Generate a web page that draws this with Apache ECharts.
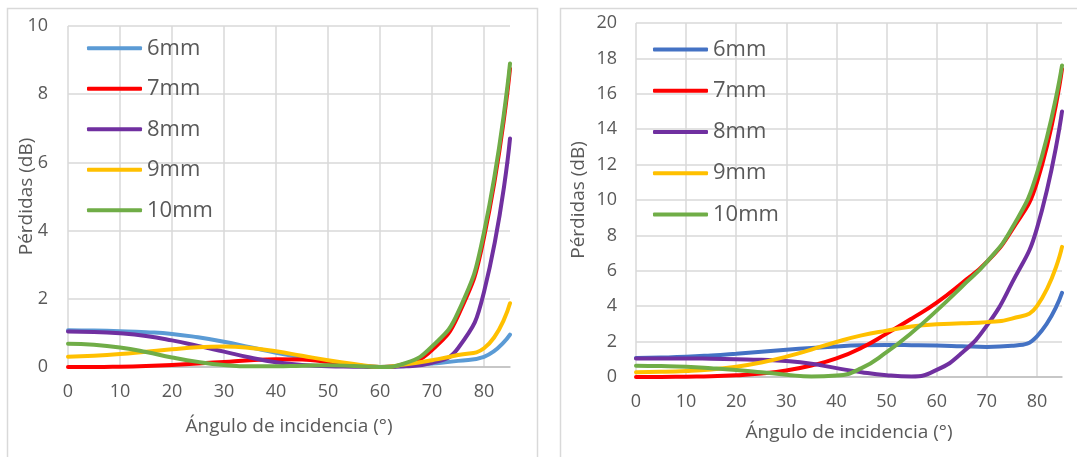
<!DOCTYPE html>
<html>
<head>
<meta charset="utf-8">
<script src="https://cdn.jsdelivr.net/npm/echarts@6/dist/echarts.min.js"></script>
<style>
  html, body { margin: 0; padding: 0; background: #fff; }
  #chart { width: 1077px; height: 457px; }
</style>
</head>
<body>
<div id="chart"></div>
<script>
// angle of incidence (deg)
const angles = [0, 5, 10, 15, 20, 25, 30, 35, 40, 45, 50, 55, 60, 65, 70, 75, 80, 85];
const names = ["6mm", "7mm", "8mm", "9mm", "10mm"];

// left chart losses (dB)
const left6 = [1.08, 1.07, 1.05, 1.02, 0.97, 0.87, 0.74, 0.58, 0.42, 0.28, 0.15, 0.05, 0.0, 0.03, 0.1, 0.18, 0.3, 0.95];
const left7 = [0.0, 0.0, 0.01, 0.03, 0.06, 0.1, 0.15, 0.2, 0.23, 0.22, 0.15, 0.06, 0.0, 0.1, 0.5, 1.5, 3.8, 8.75];
const left8 = [1.04, 1.03, 0.99, 0.91, 0.78, 0.62, 0.45, 0.28, 0.14, 0.06, 0.02, 0.01, 0.0, 0.02, 0.12, 0.55, 2.2, 6.7];
const left9 = [0.3, 0.33, 0.38, 0.45, 0.52, 0.58, 0.6, 0.56, 0.46, 0.33, 0.2, 0.09, 0.0, 0.08, 0.2, 0.35, 0.55, 1.87];
const left10 = [0.68, 0.65, 0.57, 0.44, 0.28, 0.15, 0.06, 0.02, 0.02, 0.04, 0.05, 0.03, 0.0, 0.12, 0.6, 1.6, 3.95, 8.9];

// right chart losses (dB)
const right6 = [1.08, 1.1, 1.14, 1.22, 1.32, 1.43, 1.54, 1.64, 1.73, 1.79, 1.81, 1.8, 1.78, 1.74, 1.7, 1.76, 2.3, 4.75];
const right7 = [0.0, 0.0, 0.02, 0.04, 0.1, 0.2, 0.37, 0.65, 1.05, 1.65, 2.45, 3.3, 4.2, 5.3, 6.5, 8.3, 11.0, 17.4];
const right8 = [1.05, 1.05, 1.05, 1.03, 1.0, 0.97, 0.9, 0.75, 0.5, 0.27, 0.1, 0.03, 0.4, 1.35, 2.9, 5.3, 8.4, 15.0];
const right9 = [0.27, 0.29, 0.34, 0.43, 0.58, 0.82, 1.15, 1.55, 1.98, 2.35, 2.62, 2.85, 2.98, 3.03, 3.1, 3.3, 4.0, 7.35];
const right10 = [0.64, 0.62, 0.58, 0.5, 0.4, 0.27, 0.13, 0.03, 0.08, 0.5, 1.4, 2.5, 3.75, 5.1, 6.5, 8.4, 11.5, 17.6];

const leftColors = ["#5B9BD5", "#FF0000", "#7030A0", "#FFC000", "#70AD47"];
const rightColors = ["#4472C4", "#FF0000", "#7030A0", "#FFC000", "#70AD47"];

const FONT = "Open Sans";
const TXT = "#595959";
const GRID_LINE = "#d9d9d9";

function xAxisFor(gridIndex, nameGap) {
  return {
    type: "value", gridIndex: gridIndex, min: 0, max: 85, interval: 10,
    name: "Ángulo de incidencia (°)", nameLocation: "middle", nameGap: nameGap,
    nameMoveOverlap: false,
    nameTextStyle: { fontFamily: FONT, fontSize: 19, color: TXT },
    axisLine: { show: true, onZero: false, lineStyle: { color: "#bfbfbf", width: 1.5 } },
    axisTick: { show: false },
    axisLabel: { fontFamily: FONT, fontSize: 18, color: TXT, margin: 16, showMaxLabel: false },
    splitLine: { show: true, showMaxLine: false, lineStyle: { color: GRID_LINE, width: 1.5 } }
  };
}

function yAxisFor(gridIndex, max, nameGap, margin) {
  return {
    type: "value", gridIndex: gridIndex, min: 0, max: max, interval: 2,
    name: "Pérdidas (dB)", nameLocation: "middle", nameGap: nameGap,
    nameMoveOverlap: false,
    nameTextStyle: { fontFamily: FONT, fontSize: 19, color: TXT },
    axisLine: { show: false },
    axisTick: { show: false },
    axisLabel: { fontFamily: FONT, fontSize: 18, color: TXT, margin: margin },
    splitLine: { show: true, lineStyle: { color: GRID_LINE, width: 1.5 } }
  };
}

function lineSeries(name, values, color, idx) {
  return {
    name: name, type: "line", xAxisIndex: idx, yAxisIndex: idx,
    data: angles.map((a, i) => [a, values[i]]),
    smooth: 0.5, symbol: "none", showSymbol: false,
    lineStyle: { color: color, width: 4, cap: "round" },
    itemStyle: { color: color },
    emphasis: { disabled: true }
  };
}

function legendFor(left, top, colors, lh) {
  return {
    orient: "vertical", left: left, top: top, itemGap: 0, padding: 0,
    icon: "roundRect", itemWidth: 55, itemHeight: 4,
    textStyle: { fontFamily: FONT, fontSize: 22, color: TXT, lineHeight: lh },
    selectedMode: false,
    data: names.map((n, i) => ({ name: n, itemStyle: { color: colors[i] } }))
  };
}

const leftSets = [left6, left7, left8, left9, left10];
const rightSets = [right6, right7, right8, right9, right10];

const chart = echarts.init(document.getElementById("chart"), null, { renderer: "canvas" });
chart.setOption({
  animation: false,
  backgroundColor: "#fff",
  graphic: [
    { type: "rect", shape: { x: 7.5, y: 8.5, width: 530, height: 470 }, style: { fill: null, stroke: "#d9d9d9", lineWidth: 1.5 }, z: -1 },
    { type: "rect", shape: { x: 560.5, y: 8.5, width: 540, height: 470 }, style: { fill: null, stroke: "#d9d9d9", lineWidth: 1.5 }, z: -1 }
  ],
  grid: [
    { left: 68, top: 26, width: 442, height: 341 },
    { left: 636, top: 23, width: 426, height: 354 }
  ],
  legend: [legendFor(87, 28, leftColors, 40.5), legendFor(653, 29, rightColors, 41.2)],
  xAxis: [xAxisFor(0, 50), xAxisFor(1, 46)],
  yAxis: [yAxisFor(0, 10, 32, 20), yAxisFor(1, 20, 48, 19)],
  series: [
    ...names.map((n, i) => lineSeries(n, leftSets[i], leftColors[i], 0)),
    ...names.map((n, i) => lineSeries(n, rightSets[i], rightColors[i], 1))
  ]
});
</script>
</body>
</html>
